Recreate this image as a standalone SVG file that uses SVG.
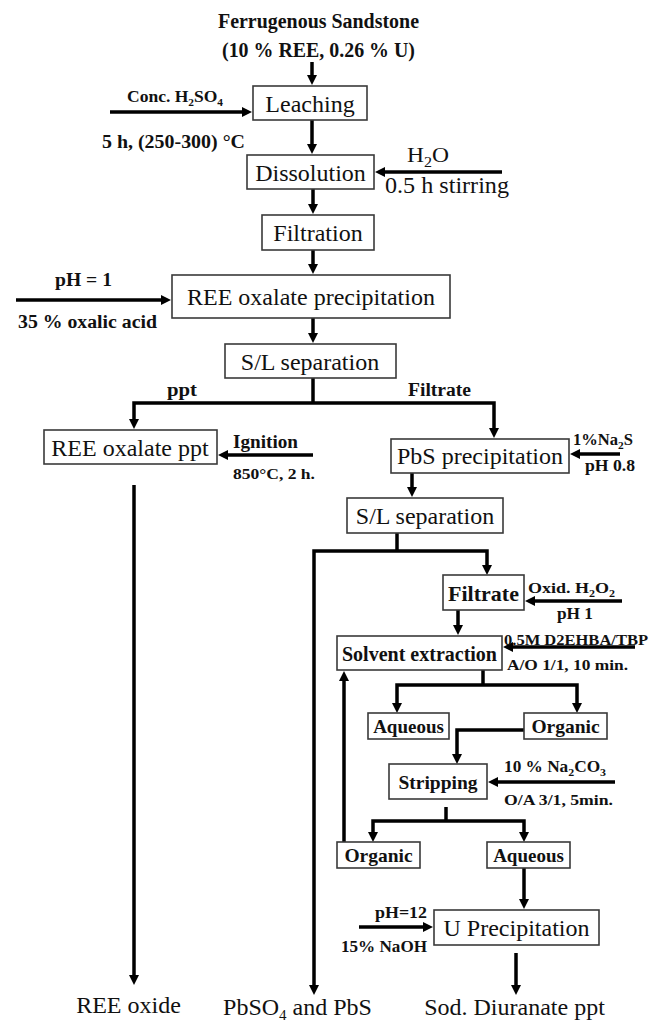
<svg xmlns="http://www.w3.org/2000/svg" width="650" height="1022" viewBox="0 0 650 1022">
<style>
.bx rect{fill:#fff;stroke:#3a3a3a;stroke-width:1.6}
.t{font-family:"Liberation Serif","Times New Roman",serif;font-size:24px;text-anchor:middle;fill:#111}
.tb{font-family:"Liberation Serif","Times New Roman",serif;font-weight:bold;text-anchor:middle;fill:#111}
.l{font-family:"Liberation Serif","Times New Roman",serif;font-weight:bold;fill:#111}
.lr{font-family:"Liberation Serif","Times New Roman",serif;fill:#111}
.c{stroke:#000;stroke-width:3.5;fill:none;stroke-linejoin:miter}
.a{marker-end:url(#ah)}
</style>
<defs>
<marker id="ah" viewBox="0 0 10 10" markerWidth="10" markerHeight="10" markerUnits="userSpaceOnUse" refX="1" refY="5" orient="auto">
<path d="M0,0 L10,5 L0,10 z" fill="#000"/>
</marker>
</defs>
<rect width="650" height="1022" fill="#fff"/>

<g id="connectors">
<path class="c a" d="M312,62 V76"/>
<path class="c a" d="M110,112 H243"/>
<path class="c a" d="M312,120 V145"/>
<path class="c a" d="M502,172 H384"/>
<path class="c a" d="M313,189 V205"/>
<path class="c a" d="M313,250 V265"/>
<path class="c a" d="M16,300 H162"/>
<path class="c a" d="M313,318 V334"/>
<path class="c" d="M313,378 V403"/>
<path class="c a" d="M313,403 H134 V420"/>
<path class="c a" d="M313,403 H494 V429"/>
<path class="c a" d="M313,455 H227"/>
<path class="c a" d="M134,485 V976"/>
<path class="c a" d="M620,454 H579"/>
<path class="c a" d="M412,473 V488"/>
<path class="c" d="M397,533 V551"/>
<path class="c a" d="M397,551 H314 V986"/>
<path class="c a" d="M397,551 H487 V566"/>
<path class="c a" d="M622,601 H534"/>
<path class="c a" d="M458,610 V626"/>
<path class="c a" d="M635,647 H512"/>
<path class="c" d="M483,670 V685"/>
<path class="c a" d="M483,685 H397 V704"/>
<path class="c a" d="M483,685 H577 V704"/>
<path class="c a" d="M524,730 H457 V755"/>
<path class="c a" d="M615,782 H497"/>
<path class="c" d="M446,807 V821"/>
<path class="c a" d="M446,821 H373 V833"/>
<path class="c a" d="M446,821 H524 V833"/>
<path class="c a" d="M344,842 V680"/>
<path class="c a" d="M524,868 V900"/>
<path class="c a" d="M359,927 H424"/>
<path class="c a" d="M516,953 V986"/>
</g>

<g id="feed">
<text class="l" x="218" y="28" font-size="20" textLength="201" lengthAdjust="spacingAndGlyphs">Ferrugenous Sandstone</text>
<text class="l" x="222" y="57" font-size="20" textLength="193" lengthAdjust="spacingAndGlyphs">(10 % REE, 0.26 % U)</text>
</g>

<g id="leaching" class="bx"><rect x="253" y="86" width="114" height="34"/><text class="t" x="310" y="112">Leaching</text></g>
<g id="leaching-inputs">
<text class="l" x="127" y="102" font-size="17" textLength="96" lengthAdjust="spacingAndGlyphs">Conc. H<tspan dy="4" font-size="11">2</tspan><tspan dy="-4">SO</tspan><tspan dy="4" font-size="11">4</tspan></text>
<text class="l" x="102" y="148" font-size="18" textLength="143" lengthAdjust="spacingAndGlyphs">5 h, (250-300) °C</text>
</g>

<g id="dissolution" class="bx"><rect x="247" y="155" width="127" height="34"/><text class="t" x="310.5" y="181">Dissolution</text></g>
<g id="dissolution-inputs">
<text class="lr" x="407" y="162" font-size="22" textLength="42" lengthAdjust="spacingAndGlyphs">H<tspan dy="5" font-size="15">2</tspan><tspan dy="-5">O</tspan></text>
<text class="lr" x="385" y="193" font-size="23" textLength="124" lengthAdjust="spacingAndGlyphs">0.5 h stirring</text>
</g>

<g id="filtration" class="bx"><rect x="262" y="215" width="112" height="35"/><text class="t" x="318" y="241">Filtration</text></g>

<g id="ree-oxalate-precipitation" class="bx"><rect x="172" y="275" width="278" height="43"/><text class="t" x="311" y="305">REE oxalate precipitation</text></g>
<g id="oxalic-inputs">
<text class="l" x="55" y="286" font-size="18" textLength="57" lengthAdjust="spacingAndGlyphs">pH = 1</text>
<text class="l" x="18" y="328" font-size="18" textLength="139" lengthAdjust="spacingAndGlyphs">35 % oxalic acid</text>
</g>

<g id="sl-separation-1" class="bx"><rect x="225" y="344" width="171" height="34"/><text class="t" x="310" y="370">S/L separation</text></g>
<g id="branch-labels-1">
<text class="l" x="167" y="396" font-size="18" textLength="30" lengthAdjust="spacingAndGlyphs">ppt</text>
<text class="l" x="408" y="396" font-size="18" textLength="63" lengthAdjust="spacingAndGlyphs">Filtrate</text>
</g>

<g id="ree-oxalate-ppt" class="bx"><rect x="44" y="430" width="173" height="34"/><text class="t" x="130" y="456">REE oxalate ppt</text></g>
<g id="ignition-inputs">
<text class="l" x="233" y="448" font-size="19" textLength="65" lengthAdjust="spacingAndGlyphs">Ignition</text>
<text class="l" x="233" y="479" font-size="15" textLength="82" lengthAdjust="spacingAndGlyphs">850°C, 2 h.</text>
</g>

<g id="pbs-precipitation" class="bx"><rect x="391" y="439" width="178" height="34"/><text class="t" x="480" y="464">PbS precipitation</text></g>
<g id="pbs-inputs">
<text class="l" x="573" y="445" font-size="16" textLength="60" lengthAdjust="spacingAndGlyphs">1%Na<tspan dy="4" font-size="11">2</tspan><tspan dy="-4">S</tspan></text>
<text class="l" x="585" y="471" font-size="16" textLength="50" lengthAdjust="spacingAndGlyphs">pH 0.8</text>
</g>

<g id="sl-separation-2" class="bx"><rect x="347" y="498" width="156" height="35"/><text class="t" x="425" y="524">S/L separation</text></g>

<g id="filtrate" class="bx"><rect x="443" y="575" width="81" height="35"/><text class="tb" x="483.5" y="601" font-size="22">Filtrate</text></g>
<g id="filtrate-inputs">
<text class="l" x="528" y="593" font-size="15" textLength="87" lengthAdjust="spacingAndGlyphs">Oxid.  H<tspan dy="4" font-size="10">2</tspan><tspan dy="-4">O</tspan><tspan dy="4" font-size="10">2</tspan></text>
<text class="l" x="557" y="619" font-size="16" textLength="36" lengthAdjust="spacingAndGlyphs">pH 1</text>
</g>

<g id="solvent-extraction" class="bx"><rect x="337" y="636" width="165" height="34"/><text class="tb" x="419.5" y="661" font-size="20">Solvent extraction</text></g>
<g id="solvent-inputs">
<text class="l" x="504" y="645" font-size="15" textLength="144" lengthAdjust="spacingAndGlyphs">0.5M D2EHBA/TBP</text>
<text class="l" x="507" y="670" font-size="15" textLength="121" lengthAdjust="spacingAndGlyphs">A/O 1/1, 10 min.</text>
</g>

<g id="aqueous-1" class="bx"><rect x="368" y="713" width="81" height="26"/><text class="tb" x="408.5" y="733" font-size="19">Aqueous</text></g>
<g id="organic-1" class="bx"><rect x="524" y="713" width="83" height="26"/><text class="tb" x="565.5" y="733" font-size="19.5">Organic</text></g>

<g id="stripping" class="bx"><rect x="389" y="764" width="98" height="35"/><text class="tb" x="438" y="789" font-size="19.5">Stripping</text></g>
<g id="stripping-inputs">
<text class="l" x="504" y="772" font-size="16" textLength="102" lengthAdjust="spacingAndGlyphs">10 % Na<tspan dy="4" font-size="11">2</tspan><tspan dy="-4">CO</tspan><tspan dy="4" font-size="11">3</tspan></text>
<text class="l" x="504" y="805" font-size="15" textLength="109" lengthAdjust="spacingAndGlyphs">O/A 3/1, 5min.</text>
</g>

<g id="organic-2" class="bx"><rect x="337" y="842" width="83" height="26"/><text class="tb" x="378.5" y="862" font-size="19.5">Organic</text></g>
<g id="aqueous-2" class="bx"><rect x="487" y="842" width="83" height="26"/><text class="tb" x="528.5" y="862" font-size="19">Aqueous</text></g>

<g id="u-precipitation" class="bx"><rect x="434" y="910" width="165" height="35"/><text class="t" x="516.5" y="936" font-size="23.5">U Precipitation</text></g>
<g id="u-inputs">
<text class="l" x="375" y="918" font-size="16" textLength="52" lengthAdjust="spacingAndGlyphs">pH=12</text>
<text class="l" x="341" y="952" font-size="16" textLength="86" lengthAdjust="spacingAndGlyphs">15% NaOH</text>
</g>

<g id="ree-oxide"><text class="t" x="128.5" y="1013">REE oxide</text></g>
<g id="pbso4-pbs"><text class="t" x="297.5" y="1015">PbSO<tspan dy="5" font-size="15">4</tspan><tspan dy="-5"> and PbS</tspan></text></g>
<g id="sod-diuranate"><text class="t" x="514.5" y="1015">Sod. Diuranate ppt</text></g>
</svg>
